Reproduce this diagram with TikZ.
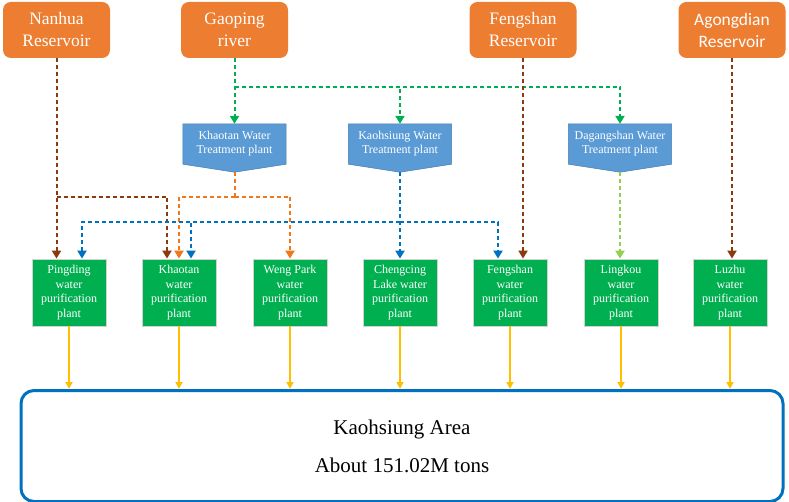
\documentclass[tikz,border=0pt]{standalone}
\usepackage{fontspec}
\setmainfont{Liberation Serif}
\newfontfamily\timesfont{Liberation Serif}
\newfontfamily\calibrifont{Carlito}
\usetikzlibrary{arrows.meta,calc,backgrounds}
\definecolor{srcorange}{HTML}{ED7D31}
\definecolor{tpblue}{HTML}{5B9BD5}
\definecolor{plantgreen}{HTML}{00B050}
\definecolor{areablue}{HTML}{0070C0}
\definecolor{flowbrown}{HTML}{8B3A0E}
\definecolor{flowgreen}{HTML}{00B050}
\definecolor{flowlime}{HTML}{92D050}
\definecolor{flowyellow}{HTML}{FFC000}
\definecolor{floworange}{HTML}{F07818}
\begin{document}
\begin{tikzpicture}[x=1pt, y=-1pt,
    source/.style={rectangle, rounded corners=8pt, fill=srcorange, text=white,
        minimum width=107pt, minimum height=56pt, align=center,
        font=\timesfont\fontsize{17.5}{22}\selectfont},
    treat/.style={rectangle, minimum width=103pt, minimum height=40pt, align=center,
        text=white, font=\timesfont\fontsize{12}{14}\selectfont},
    plant/.style={rectangle, fill=plantgreen, draw=gray!35, line width=0.8pt, text=white,
        minimum width=74pt, minimum height=67pt, align=center,
        font=\timesfont\fontsize{12}{14.7}\selectfont},
    flow/.style={line width=2pt, dash pattern=on 4pt off 3pt,
        -{Triangle[length=8pt,width=9pt]}},
    supply/.style={line width=2pt, flowyellow, -{Triangle[length=7pt,width=7pt]}}]

    \useasboundingbox (0,0) rectangle (789,502);

    % 1. Nguồn nước (hồ chứa, sông)
    \node[source] (nanhua) at (56.5,30) {Nanhua\\Reservoir};
    \node[source] (gaoping) at (234.5,30) {Gaoping\\river};
    \node[source] (fengshanR) at (523,30) {Fengshan\\Reservoir};
    \node[source, font=\calibrifont\fontsize{17.5}{22}\selectfont] (agongdian) at (732,30) {Agongdian\\Reservoir};

    % 2. Nhà máy xử lý nước (hình ngũ giác)
    \node[treat] (khaotanT) at (234.5,144) {Khaotan Water\\Treatment plant};
    \node[treat] (kaohsiungT) at (400,144) {Kaohsiung Water\\Treatment plant};
    \node[treat] (dagangT) at (620,144) {Dagangshan Water\\Treatment plant};
    \coordinate (ktip) at ($(khaotanT.south)+(0,8)$);
    \coordinate (htip) at ($(kaohsiungT.south)+(0,8)$);
    \coordinate (dtip) at ($(dagangT.south)+(0,8)$);
    \begin{scope}[on background layer]
        \foreach \t/\p in {khaotanT/ktip, kaohsiungT/htip, dagangT/dtip}
            \filldraw[fill=tpblue, draw=tpblue!80!black, line width=0.5pt]
                (\t.north west) -- (\t.north east) -- (\t.south east) -- (\p)
                -- (\t.south west) -- cycle;
    \end{scope}

    % 3. Nhà máy lọc nước
    \node[plant] (pingding) at (69,292.5) {Pingding\\water\\purification\\plant};
    \node[plant] (khaotanP) at (179,292.5) {Khaotan\\water\\purification\\plant};
    \node[plant] (wengP) at (290,292.5) {Weng Park\\water\\purification\\plant};
    \node[plant] (chengP) at (400,292.5) {Chengcing\\Lake water\\purification\\plant};
    \node[plant] (fengshanP) at (510,292.5) {Fengshan\\water\\purification\\plant};
    \node[plant] (lingkou) at (621,292.5) {Lingkou\\water\\purification\\plant};
    \node[plant] (luzhu) at (730,292.5) {Luzhu\\water\\purification\\plant};

    % 4. Khu vực Cao Hùng
    \node[rectangle, rounded corners=13pt, draw=areablue, line width=3pt,
        minimum width=762pt, minimum height=111pt, align=center,
        font=\timesfont\fontsize{21}{38}\selectfont] (area) at (402,446)
        {Kaohsiung Area\\About 151.02M tons};

    % 5. Các đường nét đứt dẫn nước
    % Nanhua
    \coordinate (nj) at (nanhua.south |- 0,197);
    \draw[flow, flowbrown] (nanhua.south) -- (nanhua.south |- pingding.north);
    \draw[flow, flowbrown] (nj) -| ([xshift=-12pt]khaotanP.north);
    % Gaoping
    \coordinate (gj) at (gaoping.south |- 0,87);
    \draw[flow, flowgreen] (gaoping.south) -- (khaotanT.north);
    \draw[flow, flowgreen] (gj) -| (kaohsiungT.north);
    \draw[flow, flowgreen] (gj) -| (dagangT.north);
    % Khaotan Water Treatment plant
    \coordinate (kj) at (ktip |- 0,197);
    \draw[flow, floworange, -] (ktip) -- (kj);
    \draw[flow, floworange] (kj) -| (khaotanP.north);
    \draw[flow, floworange] (kj) -| (wengP.north);
    % Kaohsiung Water Treatment plant
    \coordinate (hj) at (htip |- 0,222);
    \draw[flow, areablue] (htip) -- (chengP.north);
    \draw[flow, areablue] (hj) -| ([xshift=13pt]pingding.north);
    \draw[flow, areablue] (hj) -| ([xshift=12pt]khaotanP.north);
    \draw[flow, areablue] (hj) -| ([xshift=-12pt]fengshanP.north);
    % Fengshan, Dagangshan, Agongdian
    \draw[flow, flowbrown] (fengshanR.south) -- (fengshanR.south |- fengshanP.north);
    \draw[flow, flowlime] (dtip) -- (dtip |- lingkou.north);
    \draw[flow, flowbrown] (agongdian.south) -- (agongdian.south |- luzhu.north);

    % 6. Mũi tên vàng đến khu vực
    \foreach \p in {pingding, khaotanP, wengP, chengP, fengshanP, lingkou, luzhu}
        \draw[supply] (\p.south) -- (\p.south |- area.north);

\end{tikzpicture}
\end{document}
